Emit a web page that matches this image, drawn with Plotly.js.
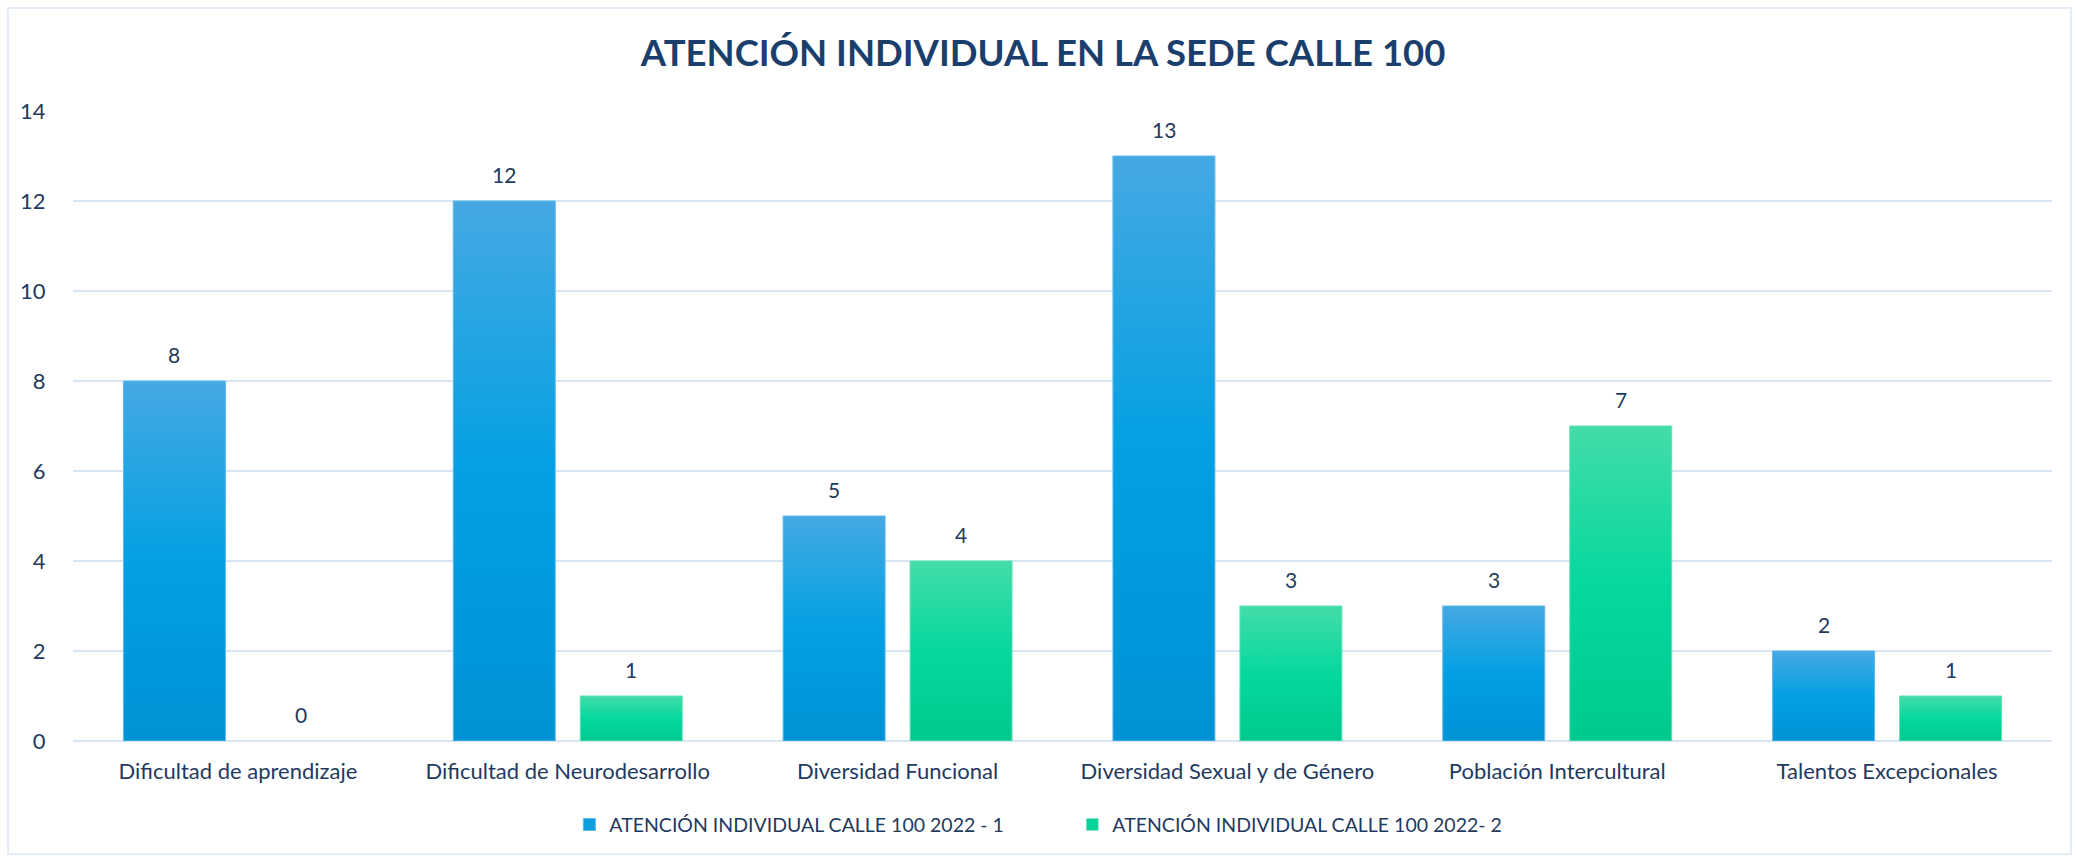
<!DOCTYPE html>
<html>
<head>
<meta charset="utf-8">
<script src="https://cdn.plot.ly/plotly-3.0.1.min.js"></script>
<style>
  html, body { margin: 0; padding: 0; background: #ffffff; }
  #wrap { position: relative; width: 2078px; height: 861px; }
  #chart { width: 2078px; height: 861px; }
  #frame { position: absolute; left: 7px; top: 7px; right: 6px; bottom: 6px;
           border: 2px solid #E3ECF7; pointer-events: none; }
</style>
</head>
<body>
<div id="wrap">
  <div id="chart"></div>
  <div id="frame"></div>
</div>
<script>
const categories = [
  "Dificultad de aprendizaje",
  "Dificultad de Neurodesarrollo",
  "Diversidad Funcional",
  "Diversidad Sexual y de Género",
  "Población Intercultural",
  "Talentos Excepcionales"
];
const seriesNames = [
  "ATENCIÓN INDIVIDUAL CALLE 100 2022 - 1",
  "ATENCIÓN INDIVIDUAL CALLE 100 2022- 2"
];
const values2022_1 = [8, 12, 5, 13, 3, 2];
const values2022_2 = [0, 1, 4, 3, 7, 1];
const yTickValues = [0, 2, 4, 6, 8, 10, 12, 14];

const navy = "#1F3A60";
const baseFont = "Lato, 'Open Sans', sans-serif";
const colors = ["#0E9DDE", "#0AD39A"];
const lineColors = ["#5DB9E8", "#5EE3B8"];

const traces = [values2022_1, values2022_2].map((vals, i) => ({
  type: "bar",
  name: seriesNames[i],
  x: categories,
  y: vals,
  marker: { color: colors[i], line: { color: lineColors[i], width: vals.map(v => v === 0 ? 0 : 1) } },
  hoverinfo: "x+y"
}));

const annotations = [];
[values2022_1, values2022_2].forEach((vals, i) => {
  vals.forEach((v, j) => {
    annotations.push({
      x: categories[j], y: v, xref: "x", yref: "y",
      text: String(v), showarrow: false,
      xshift: i === 0 ? -63.5 : 63.5, yshift: 27,
      yanchor: "middle", xanchor: "center",
      font: { family: baseFont, size: 21, color: navy }
    });
  });
});

const layout = {
  width: 2078, height: 861,
  paper_bgcolor: "rgba(0,0,0,0)", plot_bgcolor: "rgba(0,0,0,0)",
  margin: { l: 73, r: 26, t: 111, b: 120, autoexpand: false },
  title: {
    text: "<b>ATENCIÓN INDIVIDUAL EN LA SEDE CALLE 100</b>",
    font: { family: baseFont, size: 36.5, color: "#1B3F6D" },
    x: 0.502, xanchor: "center", y: 0.938, yanchor: "middle"
  },
  barmode: "group",
  bargap: 0.23,
  bargroupgap: 0.197,
  xaxis: {
    type: "category",
    tickfont: { family: baseFont, size: 22, color: navy },
    ticks: "outside", ticklen: 11, tickcolor: "rgba(0,0,0,0)",
    showline: false, showgrid: false, zeroline: false
  },
  yaxis: {
    range: [0, 14],
    tickvals: yTickValues,
    ticktext: yTickValues.map(String),
    tickfont: { family: baseFont, size: 22, color: navy },
    ticks: "outside", ticklen: 22, tickcolor: "rgba(0,0,0,0)",
    showgrid: true, gridcolor: "#D8E5F4", gridwidth: 2,
    zeroline: true, zerolinecolor: "#D8E5F4", zerolinewidth: 2,
    showline: false
  },
  legend: {
    orientation: "h",
    xref: "container", yref: "container",
    x: 0.274, xanchor: "left", y: 0.042, yanchor: "middle",
    font: { family: baseFont, size: 19.5, color: navy },
    itemwidth: 30, traceorder: "normal",
    entrywidth: 458, entrywidthmode: "pixels"
  },
  annotations: annotations,
  showlegend: true
};

Plotly.newPlot("chart", traces, layout, { displayModeBar: false, staticPlot: true }).then(gd => {
  const svg = gd.querySelector("svg.main-svg");
  const ns = "http://www.w3.org/2000/svg";
  let defs = svg.querySelector("defs");
  if (!defs) { defs = document.createElementNS(ns, "defs"); svg.insertBefore(defs, svg.firstChild); }
  const grads = [
    { id: "gBlue", stops: [["0%", "#45A9E3"], ["50%", "#03A0E3"], ["100%", "#0092D5"]] },
    { id: "gGreen", stops: [["0%", "#43DCA8"], ["50%", "#06D89F"], ["100%", "#00C98E"]] }
  ];
  grads.forEach(g => {
    const lg = document.createElementNS(ns, "linearGradient");
    lg.setAttribute("id", g.id);
    lg.setAttribute("x1", "0"); lg.setAttribute("y1", "0");
    lg.setAttribute("x2", "0"); lg.setAttribute("y2", "1");
    g.stops.forEach(s => {
      const st = document.createElementNS(ns, "stop");
      st.setAttribute("offset", s[0]);
      st.setAttribute("stop-color", s[1]);
      lg.appendChild(st);
    });
    defs.appendChild(lg);
  });
  const traceGroups = gd.querySelectorAll(".barlayer .trace");
  traceGroups.forEach((tg, i) => {
    tg.querySelectorAll("path").forEach(p => {
      p.style.fill = "url(#" + grads[i].id + ")";
    });
  });
});
</script>
</body>
</html>
